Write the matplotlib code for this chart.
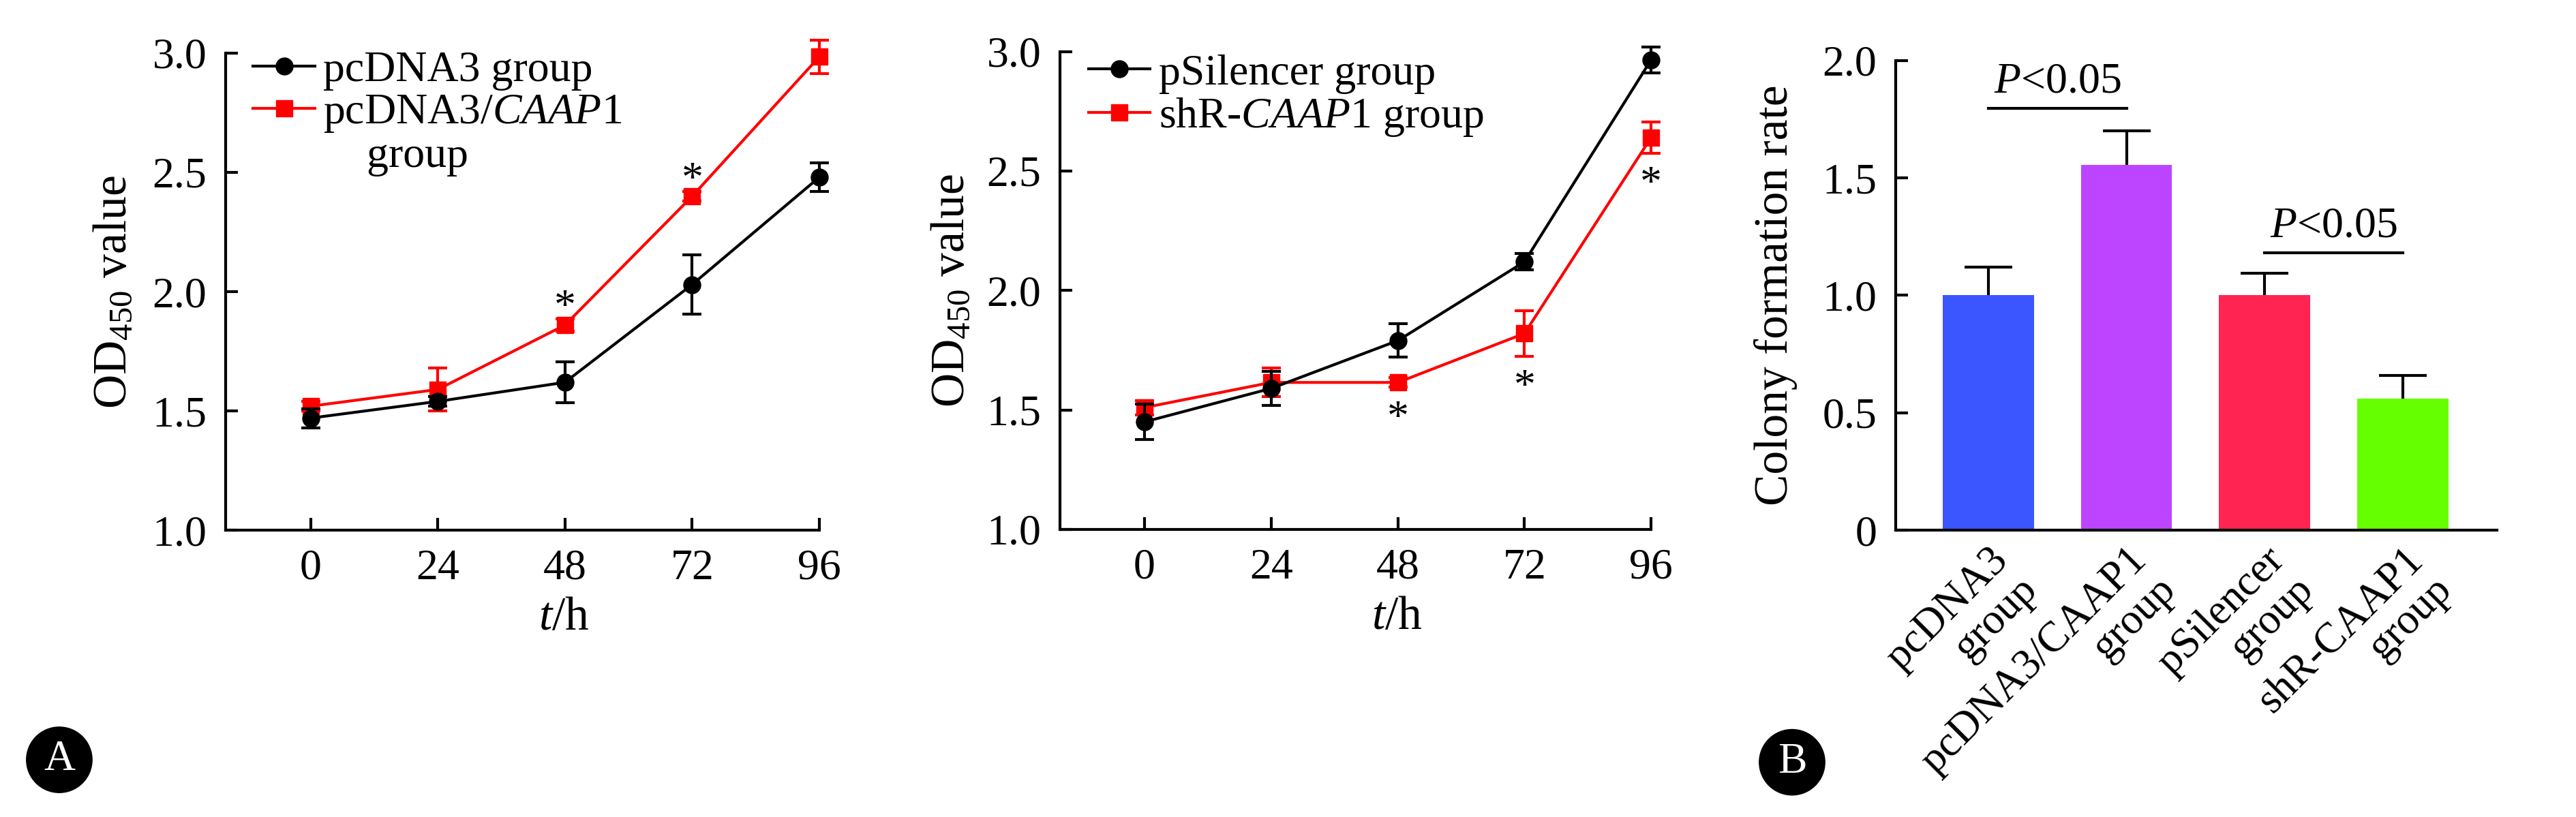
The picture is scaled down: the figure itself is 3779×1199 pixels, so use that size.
import matplotlib
matplotlib.use("Agg")
import matplotlib.pyplot as plt
import matplotlib.transforms as mtransforms
from matplotlib.lines import Line2D

plt.rcParams['font.family'] = ['Liberation Serif', 'DejaVu Serif']
plt.rcParams['mathtext.fontset'] = 'custom'
plt.rcParams['mathtext.rm'] = 'Liberation Serif'
plt.rcParams['mathtext.it'] = 'Liberation Serif:italic'
plt.rcParams['mathtext.bf'] = 'Liberation Serif:bold'

# panel A data (OD450 over time)
hours = [0, 24, 48, 72, 96]
pcdna3 = [1.47, 1.54, 1.62, 2.03, 2.48]
pcdna3_err = [0.04, 0.02, 0.085, 0.125, 0.06]
pcdna3_caap1 = [1.52, 1.59, 1.86, 2.40, 2.985]
pcdna3_caap1_err = [0.02, 0.09, 0.025, 0.02, 0.07]
psilencer = [1.45, 1.59, 1.79, 2.12, 2.965]
psilencer_err = [0.075, 0.07, 0.07, 0.035, 0.055]
shr_caap1 = [1.51, 1.615, 1.615, 1.82, 2.64]
shr_caap1_err = [0.03, 0.06, 0.02, 0.095, 0.065]
stars_idx = [2, 3, 4]

# panel B data (colony formation)
groups = ['pcDNA3\ngroup', 'pcDNA3/CAAP1\ngroup', 'pSilencer\ngroup', 'shR-CAAP1\ngroup']
colony = [1.0, 1.555, 1.0, 0.56]
colony_err = [0.12, 0.145, 0.095, 0.10]
bar_colors = ['#3b55ff', '#bd45ff', '#ff2452', '#66ff00']
sig_pairs = [(0, 1, 1.795), (2, 3, 1.18)]

FS = 46
LFS = 50
LW = 3

fig = plt.figure(figsize=(37.8, 11.99), dpi=100)
ax1 = fig.add_axes([0.0876, 0.351, 0.2304, 0.584])
ax2 = fig.add_axes([0.4114, 0.352, 0.2294, 0.585])
ax3 = fig.add_axes([0.7357, 0.351, 0.2333, 0.575])


def style_axes(ax):
    for s in ['top', 'right']:
        ax.spines[s].set_visible(False)
    for s in ['left', 'bottom']:
        ax.spines[s].set_linewidth(LW)
    ax.tick_params(direction='in', length=13, width=LW, labelsize=FS)


def line_panel(ax, black, black_err, red, red_err, names, above, legend_xy, indent):
    for y, e, c, m, ms, z in [(red, red_err, 'red', 's', 17, 3), (black, black_err, 'black', 'o', 18, 4)]:
        eb = ax.errorbar(hours, y, yerr=e, color=c, marker=m, ms=ms, lw=LW,
                         elinewidth=LW, capsize=10, capthick=LW, zorder=z)
        for art in eb.get_children():
            art.set_clip_on(False)
    for i in stars_idx:
        if above:
            ax.annotate('*', (hours[i], red[i] + red_err[i]), xytext=(0, 0),
                        textcoords='offset points', ha='center', va='baseline', fontsize=FS)
        else:
            ax.annotate('*', (hours[i], red[i] - red_err[i]), xytext=(0, -45),
                        textcoords='offset points', ha='center', va='baseline', fontsize=FS)
    ax.set_xlim(-16, 96)
    ax.set_ylim(1.0, 3.0)
    ax.set_xticks(hours)
    ax.set_yticks([1.0, 1.5, 2.0, 2.5, 3.0])
    ax.set_yticklabels(['1.0', '1.5', '2.0', '2.5', '3.0'])
    style_axes(ax)
    ax.tick_params(axis='x', pad=20)
    ax.tick_params(axis='y', pad=20)
    ax.set_xlabel(r'$\it{t}$/h', fontsize=LFS)
    ax.set_ylabel(r'OD$_{\rm 450}$ value', fontsize=LFS)
    ax.xaxis.label.set_va('center')
    ax.yaxis.label.set_va('center')
    ax.xaxis.set_label_coords(0.57, -0.185)
    ax.yaxis.set_label_coords(indent, 0.5)

    handles = [Line2D([], [], color='black', marker='o', ms=18, lw=LW),
               Line2D([], [], color='red', marker='s', ms=17, lw=LW)]
    if len(names) == 3:
        handles.append(Line2D([], [], lw=0, marker=None))
    ax.legend(handles, names, loc='upper left', bbox_to_anchor=legend_xy, frameon=False,
              fontsize=FS, handlelength=1.42, handletextpad=0.19, labelspacing=0.05,
              borderpad=0, borderaxespad=0, numpoints=1)


line_panel(ax1, pcdna3, pcdna3_err, pcdna3_caap1, pcdna3_caap1_err,
           ['pcDNA3 group', r'pcDNA3/$\it{CAAP}$1', '    group'], True, (0.046, 1.005), -0.188)
line_panel(ax2, psilencer, psilencer_err, shr_caap1, shr_caap1_err,
           ['pSilencer group', r'shR-$\it{CAAP}$1 group'], False, (0.048, 0.995), -0.183)

# bar panel
xpos = list(range(len(groups)))
ax3.bar(xpos, colony, width=0.66, color=bar_colors, zorder=2)
eb = ax3.errorbar(xpos, colony, yerr=[[0] * len(colony), colony_err], fmt='none', ecolor='black',
                  elinewidth=LW, capsize=25, capthick=LW, zorder=3)
for cap in eb[1]:
    if list(cap.get_ydata()) == colony:
        cap.set_visible(False)
for a, b, h in sig_pairs:
    ax3.plot([a, b], [h, h], color='black', lw=LW)
    ax3.text((a + b) / 2, h + 0.03, r'$\it{P}$<0.05', ha='center', va='bottom', fontsize=FS)
ax3.set_xlim(-0.67, 3.68)
ax3.set_ylim(0, 2.0)
ax3.set_yticks([0, 0.5, 1.0, 1.5, 2.0])
ax3.set_yticklabels(['0', '0.5', '1.0', '1.5', '2.0'])
style_axes(ax3)
ax3.tick_params(axis='y', pad=20)
ax3.set_xticks(xpos)
ax3.set_xticklabels(groups, rotation=45, ha='right', va='top', rotation_mode='anchor',
                    multialignment='right', linespacing=1.05, fontsize=45)
shift = mtransforms.ScaledTranslation(-0.08, 0, fig.dpi_scale_trans)
for lab in ax3.get_xticklabels():
    lab.set_transform(lab.get_transform() + shift)
ax3.tick_params(axis='x', length=0, pad=11)
ax3.set_ylabel('Colony formation rate', fontsize=LFS)
ax3.yaxis.label.set_va('center')
ax3.yaxis.set_label_coords(-0.2, 0.5)

# panel letters
for x, y, s in [(0.023, 0.070, 'A'), (0.6955, 0.067, 'B')]:
    fig.text(x, y, s, ha='center', va='center', fontsize=46, color='white',
             bbox=dict(boxstyle='circle,pad=0.3', fc='black', ec='black'))

fig.savefig('out.png', dpi=100)
